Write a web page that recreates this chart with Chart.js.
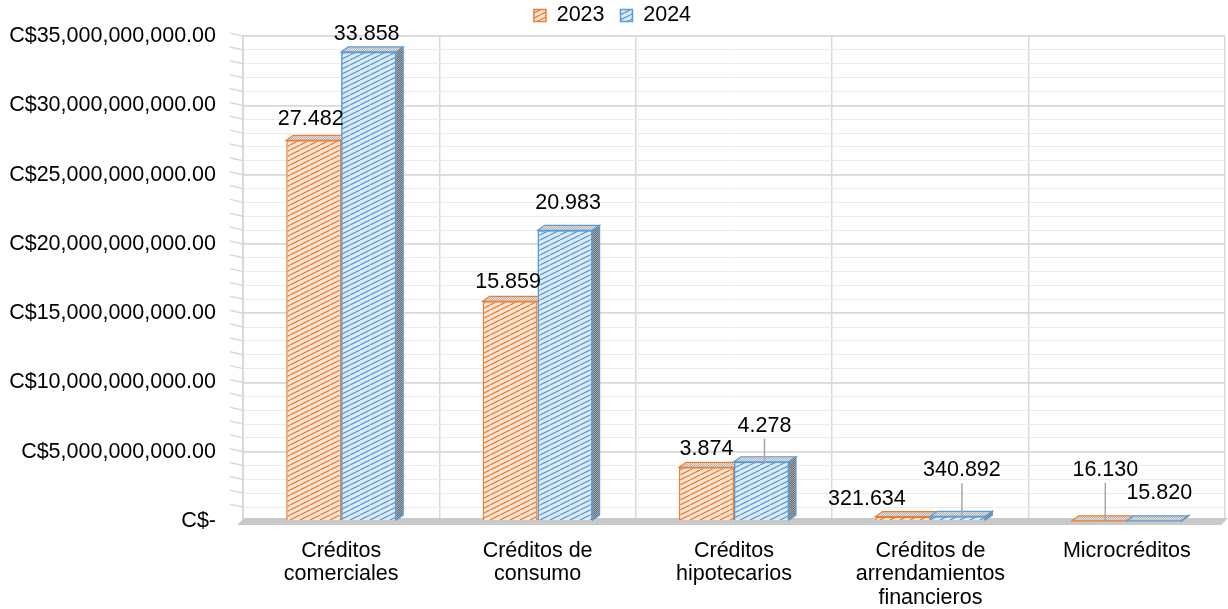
<!DOCTYPE html>
<html>
<head>
<meta charset="utf-8">
<script src="https://cdn.jsdelivr.net/npm/chart.js@4.4.1/dist/chart.umd.min.js"></script>
<style>
  html, body { margin: 0; padding: 0; background: #fff; }
  #wrap { width: 1228px; height: 609px; }
</style>
</head>
<body>
<div id="wrap"><canvas id="chart"></canvas></div>
<script>
// Data
const categories = [
    ["Créditos", "comerciales"],
    ["Créditos de", "consumo"],
    ["Créditos", "hipotecarios"],
    ["Créditos de", "arrendamientos", "financieros"],
    ["Microcréditos"]
];
const seriesNames = ["2023", "2024"];
const values2023 = [27482000000, 15859000000, 3874000000, 321634000, 16130000];
const values2024 = [33858000000, 20983000000, 4278000000, 340892000, 15820000];
const labels2023 = ["27.482", "15.859", "3.874", "321.634", "16.130"];
const labels2024 = ["33.858", "20.983", "4.278", "340.892", "15.820"];
const yMax = 35000000000;
const yStep = 1000000000;
const yMajor = 5000000000;

const FONT = "'Liberation Sans', Arial, sans-serif";
const FSIZE = 21.5;

// hatched fills like the Excel pattern
function hatch(line, fill) {
    const c = document.createElement("canvas");
    c.width = 10; c.height = 5;
    const g = c.getContext("2d");
    g.fillStyle = fill;
    g.fillRect(0, 0, 10, 5);
    g.strokeStyle = line;
    g.lineWidth = 1.3;
    [-10, 0, 10].forEach(x0 => {
        g.beginPath();
        g.moveTo(x0, 5);
        g.lineTo(x0 + 10, 0);
        g.stroke();
    });
    return g.createPattern(c, "repeat");
}

function dots(a, b) {
    const c = document.createElement("canvas");
    c.width = 2; c.height = 2;
    const g = c.getContext("2d");
    g.fillStyle = a; g.fillRect(0, 0, 2, 2);
    g.fillStyle = b; g.fillRect(0, 0, 1, 1); g.fillRect(1, 1, 1, 1);
    return g.createPattern(c, "repeat");
}

const orangeFill = hatch("#ed7d31", "#fde6d6");
const blueFill = hatch("#5b9bd5", "#deebf7");
const topFill = dots("#b4b4b4", "#e2e2e2");
const sideFill = dots("#6f6f6f", "#a5a5a5");

function drawTop(ctx, bar, color, dx, dy) {
    const l = bar.x - bar.width / 2, r = bar.x + bar.width / 2;
    ctx.beginPath();
    ctx.moveTo(l, bar.y);
    ctx.lineTo(r, bar.y);
    ctx.lineTo(r + dx, bar.y - dy);
    ctx.lineTo(l + dx, bar.y - dy);
    ctx.closePath();
    ctx.fillStyle = topFill;
    ctx.fill();
    ctx.strokeStyle = color;
    ctx.lineWidth = 1.2;
    ctx.stroke();
}

// fake 3D: floor, slanted wall ticks, bar tops and sides
const bar3d = {
    id: "bar3d",
    beforeDatasetsDraw(chart) {
        const { ctx, chartArea: a } = chart;
        const y = chart.scales.y;
        const y0 = y.getPixelForValue(0);
        ctx.save();
        ctx.fillStyle = "#c9c9c9";
        ctx.beginPath();
        ctx.moveTo(a.left - 6, y0 + 4);
        ctx.lineTo(a.right - 4, y0 + 4);
        ctx.lineTo(a.right + 3, y0 - 3);
        ctx.lineTo(a.left + 1, y0 - 3);
        ctx.closePath();
        ctx.fill();
        ctx.strokeStyle = "#d9d9d9";
        ctx.lineWidth = 1.5;
        y.ticks.forEach(t => {
            const py = y.getPixelForValue(t.value);
            if (t.value === 0) return;
            ctx.beginPath();
            ctx.moveTo(a.left - 13, py - 3);
            ctx.lineTo(a.left, py);
            ctx.stroke();
        });
        ctx.restore();
    },
    afterDatasetsDraw(chart) {
        const { ctx } = chart;
        const dx = 7, dy = 5;
        const m0 = chart.getDatasetMeta(0), m1 = chart.getDatasetMeta(1);
        const c0 = chart.data.datasets[0].borderColor, c1 = chart.data.datasets[1].borderColor;
        ctx.save();
        m0.data.forEach(bar => drawTop(ctx, bar, c0, dx, dy));
        // blue bars sit in front of the orange tops
        m1.data.forEach(bar => bar.draw(ctx));
        m1.data.forEach(bar => {
            drawTop(ctx, bar, c1, dx, dy);
            const r = bar.x + bar.width / 2;
            ctx.beginPath();
            ctx.moveTo(r, bar.y);
            ctx.lineTo(r + dx, bar.y - dy);
            ctx.lineTo(r + dx, bar.base - dy);
            ctx.lineTo(r, bar.base);
            ctx.closePath();
            ctx.fillStyle = sideFill;
            ctx.fill();
            ctx.stroke();
        });
        ctx.restore();
    }
};

// value labels over the bars
const valueLabels = {
    id: "valueLabels",
    afterDraw(chart, args, opts) {
        const { ctx } = chart;
        ctx.save();
        ctx.font = FSIZE + "px " + FONT;
        ctx.fillStyle = "#000";
        ctx.textAlign = "center";
        ctx.textBaseline = "middle";
        [labels2023, labels2024].forEach((texts, di) => {
            const meta = chart.getDatasetMeta(di);
            meta.data.forEach((bar, i) => {
                const [sx, sy] = opts.shift[di][i];
                const lx = bar.x + sx, ly = bar.y + sy;
                if (opts.leader[di][i]) {
                    ctx.strokeStyle = "#a6a6a6";
                    ctx.lineWidth = 1.5;
                    ctx.beginPath();
                    ctx.moveTo(lx, ly + 13);
                    ctx.lineTo(lx, bar.y + 1);
                    ctx.stroke();
                }
                ctx.fillText(texts[i], lx, ly);
            });
        });
        ctx.restore();
    }
};

new Chart(document.getElementById("chart"), {
    type: "bar",
    data: {
        labels: categories,
        datasets: [
            {
                label: seriesNames[0],
                data: values2023,
                backgroundColor: orangeFill,
                borderColor: "#ed7d31",
                borderWidth: 1.5
            },
            {
                label: seriesNames[1],
                data: values2024,
                backgroundColor: blueFill,
                borderColor: "#5b9bd5",
                borderWidth: 1.5
            }
        ]
    },
    options: {
        responsive: true,
        maintainAspectRatio: false,
        animation: false,
        devicePixelRatio: 1,
        barPercentage: 1,
        categoryPercentage: 0.56,
        layout: { padding: { top: 0, right: 3, left: 0, bottom: 0 } },
        plugins: {
            legend: {
                position: "top",
                labels: {
                    boxWidth: 12,
                    boxHeight: 12,
                    padding: 4,
                    color: "#000",
                    font: { size: FSIZE, family: FONT },
                    generateLabels(chart) {
                        const items = Chart.defaults.plugins.legend.labels.generateLabels(chart);
                        items.forEach((it, i) => { if (i < items.length - 1) it.text = it.text + "  "; });
                        return items;
                    }
                }
            },
            tooltip: { enabled: false },
            valueLabels: {
                shift: [
                    [[-3, -21], [-2, -19], [0, -18], [-36, -17], [6, -51]],
                    [[-2, -18], [3, -27], [3, -36], [4, -46], [5, -28]]
                ],
                leader: [
                    [false, false, false, false, true],
                    [false, false, true, true, false]
                ]
            }
        },
        scales: {
            x: {
                afterFit(scale) { scale.height = 88; },
                grid: { offset: true, drawTicks: false, color: "#d9d9d9", lineWidth: 1.5 },
                border: { display: false },
                ticks: {
                    padding: 18,
                    color: "#000",
                    maxRotation: 0,
                    font: { size: FSIZE, family: FONT, lineHeight: 1.09 }
                }
            },
            y: {
                min: 0,
                max: yMax,
                afterFit(scale) { scale.width = 243; },
                grid: {
                    drawTicks: false,
                    color: c => (c.tick && c.tick.value % yMajor === 0) ? "#d9d9d9" : "#ececec",
                    lineWidth: c => (c.tick && c.tick.value % yMajor === 0) ? 1.8 : 1
                },
                border: { color: "#d9d9d9", width: 2 },
                ticks: {
                    stepSize: yStep,
                    autoSkip: false,
                    maxTicksLimit: 100,
                    padding: 27,
                    color: "#000",
                    font: { size: FSIZE, family: FONT, lineHeight: 0.85 },
                    callback: v => {
                        if (v % yMajor !== 0) return "";
                        if (v === 0) return "C$-";
                        return "C$" + v.toLocaleString("en-US", { minimumFractionDigits: 2, maximumFractionDigits: 2 });
                    }
                }
            }
        }
    },
    plugins: [bar3d, valueLabels]
});
</script>
</body>
</html>
